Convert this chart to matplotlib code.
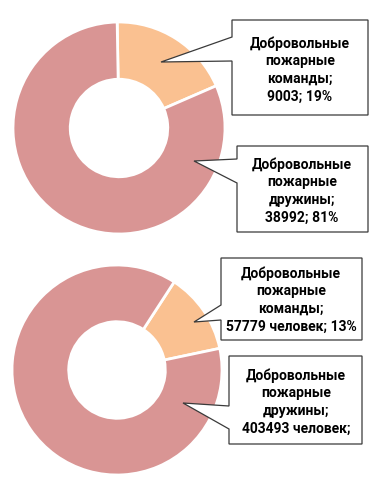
import matplotlib.pyplot as plt
from matplotlib.patches import Polygon

# data
names = ['Добровольные\nпожарные\nкоманды;', 'Добровольные\nпожарные\nдружины;']
units = [9003, 38992]        # число подразделений
people = [57779, 403493]     # численность, человек
colors = ['#FAC191', '#D99594']

W, H = 374, 480
fig = plt.figure(figsize=(W / 100, H / 100), dpi=100)


def px_axes(x0, y0, x1, y1):
    # axes from pixel box (top-left origin)
    return fig.add_axes([x0 / W, 1 - y1 / H, (x1 - x0) / W, (y1 - y0) / H])


def donut(ax, vals, start):
    ax.pie(vals, colors=colors, startangle=start, counterclock=False,
           radius=1, wedgeprops=dict(width=0.54, edgecolor='white', linewidth=2))
    ax.set_xlim(-1, 1)
    ax.set_ylim(-1, 1)
    ax.set_aspect('equal')
    ax.axis('off')


donut(px_axes(13, 22, 225, 234), units, 91)
donut(px_axes(12, 265, 222, 475), people, 57)

# overlay for callouts, in pixel coords
ov = fig.add_axes([0, 0, 1, 1])
ov.set_xlim(0, W)
ov.set_ylim(H, 0)
ov.axis('off')
ov.patch.set_alpha(0)


def callout(box, tip, base, text, tx, ty):
    x0, y0, x1, y1 = box
    pts = [(x0, y0), (x1, y0), (x1, y1), (x0, y1),
           (x0, base[1]), tip, (x0, base[0])]
    ov.add_patch(Polygon(pts, closed=True, facecolor='white',
                         edgecolor='#3a3a3a', linewidth=0.9))
    ov.text(tx, ty, text, ha='center', va='center', fontsize=10,
            fontweight='bold', linespacing=1.32, color='black',
            family=['Roboto', 'DejaVu Sans'])


def pct(v, vals):
    return round(100 * v / sum(vals))


callout((232, 20, 368, 115), (161, 62), (37, 61),
        f'{names[0]}\n{units[0]}; {pct(units[0], units)}%', 300, 70)
callout((237, 146, 368, 232), (194, 161), (159, 183),
        f'{names[1]}\n{units[1]}; {pct(units[1], units)}%', 302, 191)
callout((221, 258, 362, 340), (194, 322), (305, 320),
        f'{names[0]}\n{people[0]} человек; {pct(people[0], people)}%', 291, 300)
callout((229, 356, 362, 444), (183, 403), (406, 429),
        f'{names[1]}\n{people[1]} человек;', 296, 402)

fig.savefig('out.png', dpi=100)
